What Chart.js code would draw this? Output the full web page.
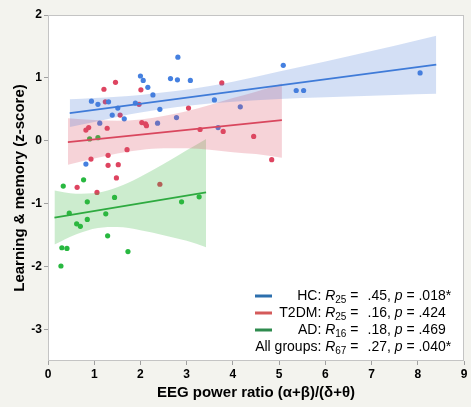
<!DOCTYPE html>
<html><head><meta charset="utf-8">
<script src="https://cdn.jsdelivr.net/npm/chart.js@4"></script>
<style>html,body{margin:0;padding:0;background:#f3f3ee;}</style>
</head><body>
<canvas id="c" width="471" height="407"></canvas>
<script>
// ---- data ----
const xTicks = [0,1,2,3,4,5,6,7,8,9];
const yTicks = [-3,-2,-1,0,1,2];

const hcX = [2.81,2.00,2.06,2.16,2.27,2.65,2.80,3.08,0.94,1.08,1.31,1.51,1.39,1.65,1.12,1.89,2.42,2.37,2.78,3.60,3.68,4.16,0.82,5.09,5.37,5.53,8.05];
const hcY = [1.33,1.03,0.96,0.85,0.73,0.99,0.97,0.96,0.63,0.58,0.62,0.52,0.41,0.35,0.28,0.60,0.50,0.28,0.37,0.65,0.21,0.54,-0.37,1.20,0.80,0.80,1.08];

const t2X = [1.46,1.21,2.01,1.24,1.97,3.76,3.04,1.56,0.82,0.88,1.28,2.03,2.11,2.13,3.29,3.79,4.45,0.93,1.30,1.71,1.30,1.52,1.48,0.63,1.06,2.42,4.84];
const t2Y = [0.93,0.82,0.81,0.62,0.58,0.92,0.52,0.41,0.17,0.21,0.20,0.29,0.27,0.24,0.18,0.15,0.07,-0.29,-0.23,-0.14,-0.39,-0.38,-0.59,-0.74,-0.82,-0.69,-0.30];

const adX = [0.90,1.08,0.33,0.77,1.44,0.85,2.89,3.27,0.46,1.25,0.85,0.62,0.70,1.29,0.30,0.41,1.73,0.28];
const adY = [0.03,0.05,-0.72,-0.62,-0.90,-0.97,-0.97,-0.89,-1.15,-1.16,-1.25,-1.32,-1.36,-1.51,-1.70,-1.71,-1.76,-1.99];

// regression lines (end points)
const hcLineX = [0.47,8.40], hcLineY = [0.44,1.21];
const t2LineX = [0.43,5.06], t2LineY = [-0.02,0.33];
const adLineX = [0.14,3.42], adLineY = [-1.22,-0.82];

// confidence bands (edges read at sample x positions)
const hcBandX  = [0.47,1.0,1.5,2.0,2.76,3.5,4.5,5.5,6.5,7.5,8.4];
const hcBandLo = [0.22,0.30,0.38,0.45,0.535,0.595,0.645,0.68,0.705,0.73,0.75];
const hcBandHi = [0.66,0.68,0.70,0.73,0.79,0.87,1.02,1.18,1.345,1.51,1.67];

const t2BandX  = [0.43,1.0,1.5,2.0,2.5,3.0,3.5,4.0,4.5,5.06];
const t2BandLo = [-0.38,-0.28,-0.20,-0.145,-0.12,-0.12,-0.14,-0.18,-0.21,-0.27];
const t2BandHi = [0.36,0.33,0.32,0.34,0.395,0.47,0.57,0.68,0.78,0.91];

const adBandX  = [0.14,0.6,1.08,1.5,2.0,2.5,3.0,3.42];
const adBandLo = [-1.65,-1.49,-1.385,-1.37,-1.42,-1.50,-1.59,-1.69];
const adBandHi = [-0.79,-0.84,-0.825,-0.74,-0.57,-0.37,-0.15,0.03];

// legend statistics
const legNames = ['HC','T2DM','AD','All groups'];
const legDf    = ['25','25','16','67'];
const legR     = ['.45','.16','.18','.27'];
const legP     = ['.018*','.424','.469','.040*'];
const legColors = ['#2c6fad','#d45a5a','#2e8b4e', null];

// ---- chart ----
const FAM = '"Liberation Sans", Arial, Helvetica, sans-serif';
const zip = (xs, ys) => xs.map((x,i)=>({x:x, y:ys[i]}));

// drawing order: larger "order" is drawn first (points under bands, lines on top)
function pts(xs, ys, col){
  return {type:'scatter', data:zip(xs,ys), backgroundColor:col, borderWidth:0, pointRadius:2.6, pointHoverRadius:2.6, order:3};
}
function reg(xs, ys, col){
  return {type:'line', data:zip(xs,ys), borderColor:col, borderWidth:1.7, pointRadius:0, fill:false, order:1, tension:0};
}
function bandLo(xs, ys){
  return {type:'line', data:zip(xs,ys), borderColor:'rgba(0,0,0,0)', borderWidth:0, pointRadius:0, fill:false, order:2, cubicInterpolationMode:'monotone'};
}
function bandHi(xs, ys, col){
  return {type:'line', data:zip(xs,ys), borderColor:'rgba(0,0,0,0)', borderWidth:0, pointRadius:0, fill:{target:'-1'}, backgroundColor:col, order:2, cubicInterpolationMode:'monotone'};
}

const bgPlugin = {
  id:'bg',
  beforeDraw(chart){
    const {ctx, chartArea:a} = chart;
    ctx.save();
    ctx.fillStyle = '#f3f3ee';
    ctx.fillRect(0,0,chart.width,chart.height);
    ctx.fillStyle = '#ffffff';
    ctx.fillRect(a.left,a.top,a.right-a.left,a.bottom-a.top);
    ctx.restore();
  },
  afterDraw(chart){
    const {ctx, chartArea:a} = chart;
    ctx.save();
    ctx.strokeStyle = '#c4c4c4';
    ctx.lineWidth = 1;
    ctx.strokeRect(a.left+0.5,a.top+0.5,a.right-a.left-1,a.bottom-a.top-1);
    ctx.restore();
  }
};

function drawRich(ctx, segs, x, y, align){
  const fontFor = s => (s.i ? 'italic ' : '') + (s.sub ? '10px ' : '14px ') + FAM;
  let w = 0;
  segs.forEach(s=>{ ctx.font = fontFor(s); w += ctx.measureText(s.t).width; });
  let cx = align === 'right' ? x - w : x;
  ctx.textAlign = 'left';
  ctx.textBaseline = 'middle';
  segs.forEach(s=>{
    ctx.font = fontFor(s);
    ctx.fillText(s.t, cx, y + (s.sub ? 4 : 0));
    cx += ctx.measureText(s.t).width;
  });
}

const legendPlugin = {
  id:'richLegend',
  afterDraw(chart){
    const ctx = chart.ctx;
    ctx.save();
    const rowY = [296, 313, 330, 347];
    for (let i=0;i<legNames.length;i++){
      const y = rowY[i];
      if (legColors[i]){
        ctx.strokeStyle = legColors[i];
        ctx.lineWidth = 3;
        ctx.beginPath(); ctx.moveTo(255,y); ctx.lineTo(272,y); ctx.stroke();
      }
      ctx.fillStyle = '#000';
      drawRich(ctx, [{t:legNames[i]+': '},{t:'R',i:1},{t:legDf[i],sub:1},{t:' ='}], 358.5, y, 'right');
      drawRich(ctx, [{t:legR[i]+', '},{t:'p',i:1},{t:' = '+legP[i]}], 367.5, y, 'left');
    }
    ctx.restore();
  }
};

new Chart(document.getElementById('c'), {
  type:'scatter',
  data:{ datasets:[
    pts(hcX,hcY,'#4580e0'),
    pts(t2X,t2Y,'#de4460'),
    pts(adX,adY,'#28b840'),
    reg(hcLineX,hcLineY,'#3f7bd8'),
    reg(t2LineX,t2LineY,'#d9475e'),
    reg(adLineX,adLineY,'#2eaa40'),
    bandLo(hcBandX,hcBandLo), bandHi(hcBandX,hcBandHi,'rgba(70,120,215,0.24)'),
    bandLo(t2BandX,t2BandLo), bandHi(t2BandX,t2BandHi,'rgba(220,80,100,0.25)'),
    bandLo(adBandX,adBandLo), bandHi(adBandX,adBandHi,'rgba(50,180,60,0.25)')
  ]},
  options:{
    responsive:false, animation:false, devicePixelRatio:1,
    layout:{padding:{top:15,right:7,left:0,bottom:0}},
    plugins:{legend:{display:false}, tooltip:{enabled:false}, filler:{drawTime:'beforeDatasetDraw'}},
    scales:{
      x:{
        type:'linear', min:0, max:9,
        afterBuildTicks(s){ s.ticks = xTicks.map(v=>({value:v})); },
        afterFit(s){ s.height = 46; },
        ticks:{font:{family:FAM, size:12, weight:'bold'}, color:'#000', padding:2},
        grid:{drawOnChartArea:false, tickLength:4, color:'#a0a0a0'},
        border:{display:false},
        title:{display:true, text:'EEG power ratio (α+β)/(δ+θ)', color:'#000',
               font:{family:FAM, size:15, weight:'bold'}, padding:{top:0,bottom:5}}
      },
      y:{
        type:'linear', min:-3.5, max:2,
        afterBuildTicks(s){ s.ticks = yTicks.map(v=>({value:v})); },
        afterFit(s){ s.width = 48; },
        ticks:{font:{family:FAM, size:12, weight:'bold'}, color:'#000', padding:2},
        grid:{drawOnChartArea:false, tickLength:4, color:'#a0a0a0'},
        border:{display:false},
        title:{display:true, text:'Learning & memory (z-score)', color:'#000',
               font:{family:FAM, size:15, weight:'bold'}, padding:{top:11,bottom:0}}
      }
    }
  },
  plugins:[bgPlugin, legendPlugin]
});
</script>
</body></html>
